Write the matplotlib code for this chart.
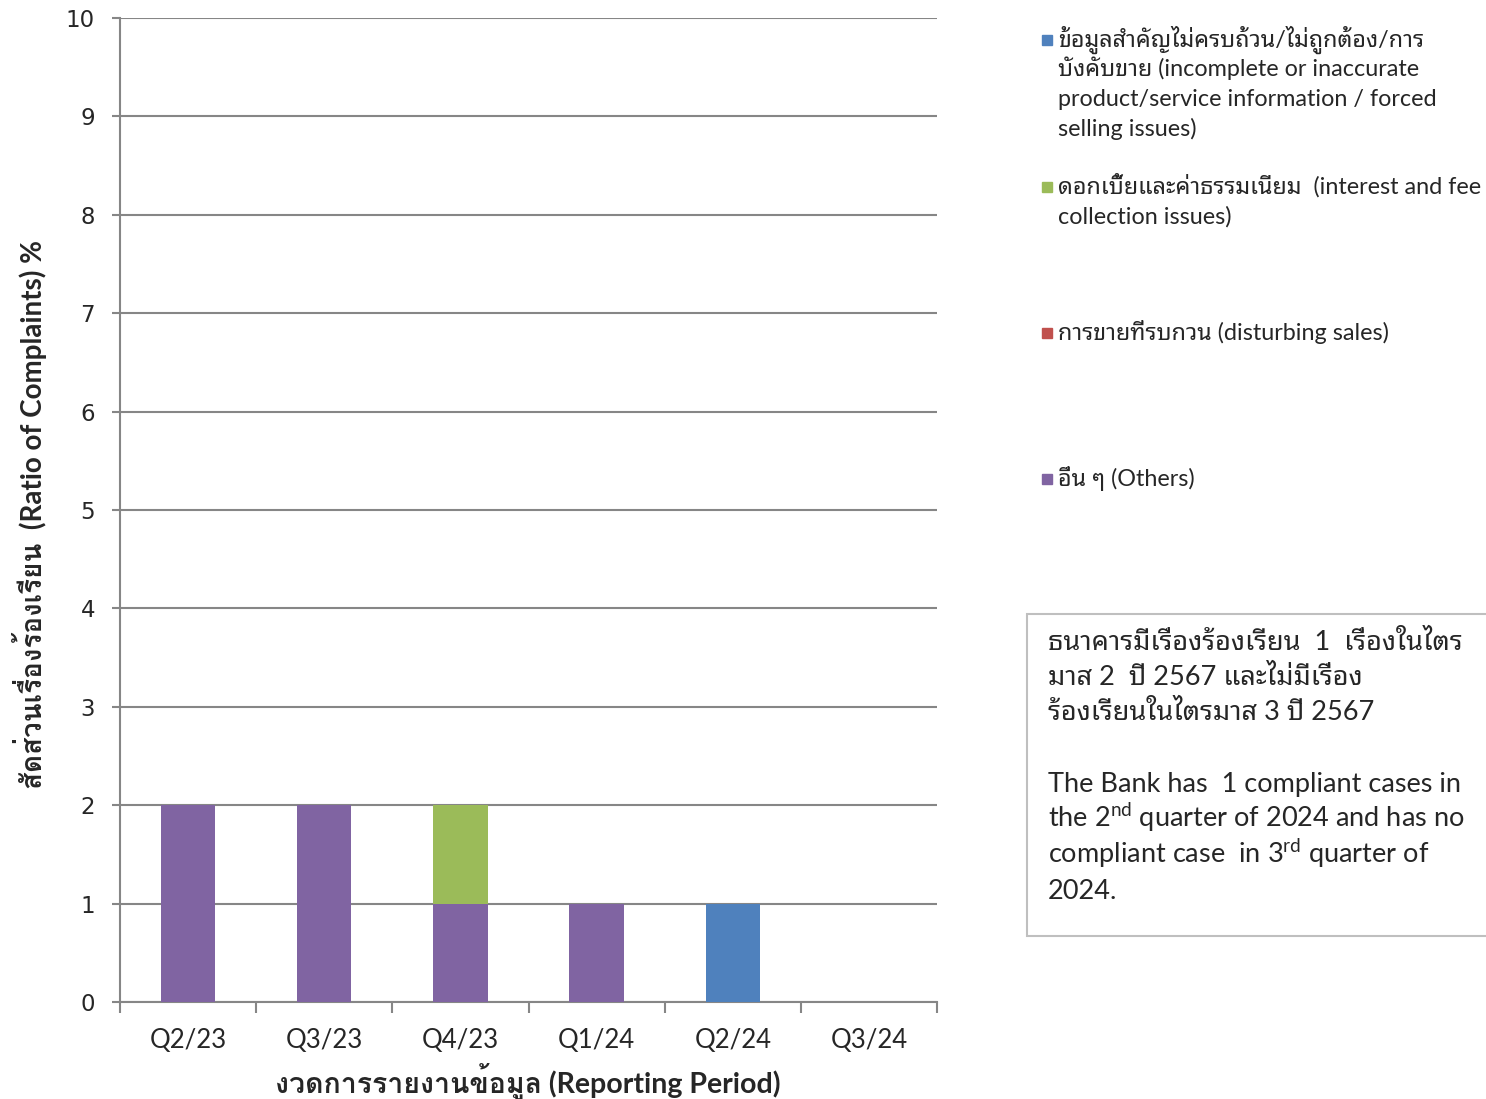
import matplotlib
matplotlib.use("Agg")
import matplotlib.pyplot as plt
from matplotlib.patches import Rectangle
import numpy as np

# Fonts: Latin from Lato, Thai falls back to a Thai family
plt.rcParams["font.family"] = ["Lato", "Noto Sans Thai Looped", "DejaVu Sans"]
plt.rcParams["mathtext.fontset"] = "custom"
plt.rcParams["mathtext.rm"] = "Lato"
plt.rcParams["mathtext.it"] = "Lato:italic"
plt.rcParams["mathtext.bf"] = "Lato:bold"
bold_family = ["Lato", "Loma", "DejaVu Sans"]

# Data
periods = ["Q2/23", "Q3/23", "Q4/23", "Q1/24", "Q2/24", "Q3/24"]
info_issues = [0, 0, 0, 0, 1, 0]      # blue
fee_issues = [0, 0, 1, 0, 0, 0]       # green
disturbing_sales = [0, 0, 0, 0, 0, 0] # red
others = [2, 2, 1, 1, 0, 0]           # purple

labels = [
    ["ข้อมูลสำคัญไม่ครบถ้วน/ไม่ถูกต้อง/การ", "บังคับขาย (incomplete or inaccurate",
     "product/service information / forced", "selling issues)"],
    ["ดอกเบี้ยและค่าธรรมเนียม  (interest and fee", "collection issues)"],
    ["การขายที่รบกวน (disturbing sales)"],
    ["อื่น ๆ (Others)"],
]
colors = ["#4F81BD", "#9BBB59", "#C0504D", "#8064A2"]

note_lines = [
    "ธนาคารมีเรื่องร้องเรียน  1  เรื่องในไตร",
    "มาส 2  ปี 2567 และไม่มีเรื่อง",
    "ร้องเรียนในไตรมาส 3 ปี 2567",
    "The Bank has  1 compliant cases in",
    "the 2$^{\\mathrm{nd}}$ quarter of 2024 and has no",
    "compliant case  in 3$^{\\mathrm{rd}}$ quarter of",
    "2024.",
]
note_y = [642, 677, 712, 784, 819, 855, 891]

W, H = 1486, 1099
fig = plt.figure(figsize=(W / 100, H / 100), dpi=100)
ax = fig.add_axes([120 / W, 1 - 1002 / H, (937 - 120) / W, (1002 - 18) / H])

grey = "#868686"
txt = "#262626"
x = np.arange(len(periods))
others_a = np.array(others)
red_a = np.array(disturbing_sales)
green_a = np.array(fee_issues)
blue_a = np.array(info_issues)

# Stacked bars (others at the bottom)
w = 0.4
ax.bar(x, others_a, w, color=colors[3], zorder=3)
ax.bar(x, red_a, w, bottom=others_a, color=colors[2], zorder=3)
ax.bar(x, green_a, w, bottom=others_a + red_a, color=colors[1], zorder=3)
ax.bar(x, blue_a, w, bottom=others_a + red_a + green_a, color=colors[0], zorder=3)

ax.set_ylim(0, 10)
ax.set_xlim(-0.5, len(periods) - 0.5)
ax.set_yticks(range(0, 11))
ax.yaxis.grid(True, color=grey, linewidth=1.5)
ax.set_axisbelow(True)

for s in ["top", "right"]:
    ax.spines[s].set_visible(False)
for s in ["left", "bottom"]:
    ax.spines[s].set_color(grey)
    ax.spines[s].set_linewidth(1.5)

ax.tick_params(axis="y", length=6, width=1.5, color=grey, pad=12,
               labelsize=16.5, labelcolor=txt)
for lab in ax.get_yticklabels():
    lab.set_fontfamily("DejaVu Sans")

# Category boundaries as major ticks, labels on minor ticks at centres
ax.set_xticks(np.arange(-0.5, len(periods)), labels=[])
ax.set_xticks(x, labels=periods, minor=True)
ax.tick_params(axis="x", which="major", length=8, width=1.5, color=grey)
ax.tick_params(axis="x", which="minor", length=0, pad=19, labelsize=18.5,
               labelcolor=txt)

fig.text(528 / W, 1 - 1082 / H, "งวดการรายงานข้อมูล (Reporting Period)",
         ha="center", va="center", fontsize=20.5, fontweight="bold", color=txt,
         family=bold_family)
fig.text(30 / W, 1 - 515 / H, "สัดส่วนเรื่องร้องเรียน  (Ratio of Complaints) %",
         ha="center", va="center", rotation=90, fontsize=20,
         fontweight="bold", color=txt, family=bold_family)

# Legend, drawn by hand to keep the wide spacing of the original
tops = [40, 187, 333, 479]
for lines, col, yc in zip(labels, colors, tops):
    fig.patches.append(Rectangle((1042 / W, 1 - (yc + 5) / H), 10 / W, 10 / H,
                                 transform=fig.transFigure, color=col))
    for i, line in enumerate(lines):
        fig.text(1058 / W, 1 - (yc + 7 + i * 29.5) / H, line, ha="left",
                 va="baseline", fontsize=16.8, color=txt)

# Note box
fig.patches.append(Rectangle((1027 / W, 1 - 936 / H), 500 / W, (936 - 614) / H,
                             transform=fig.transFigure, facecolor="white",
                             edgecolor="#bfbfbf", linewidth=1.5))
for line, yc in zip(note_lines, note_y):
    fig.text(1048 / W, 1 - (yc + 8) / H, line, ha="left", va="baseline",
             fontsize=19.5, color=txt)

fig.savefig("out.png", dpi=100)
